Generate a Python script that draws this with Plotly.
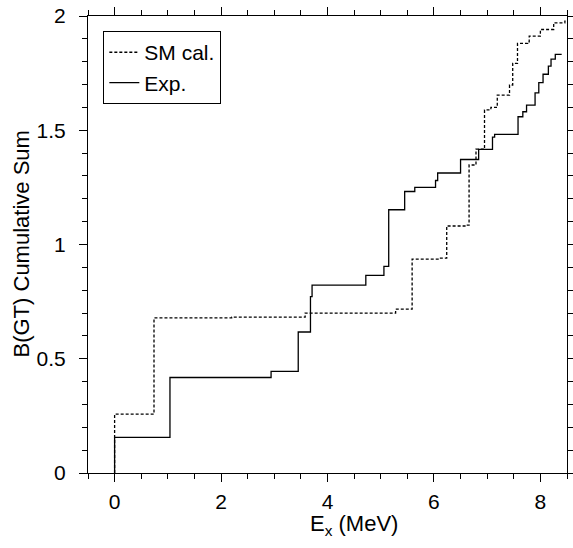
import plotly.graph_objects as go

# Shell-model calculation: excitation energies (MeV) and cumulative B(GT)
sm_energy = [0.0, 0.74, 2.2, 3.58, 5.28, 5.59, 6.09, 6.24, 6.60, 6.66, 6.79, 6.95,
             7.07, 7.19, 7.42, 7.48, 7.57, 7.76, 7.79, 8.00, 8.25, 8.46]
sm_cum = [0.258, 0.679, 0.682, 0.700, 0.717, 0.936, 0.940, 1.081, 1.085, 1.348, 1.417, 1.589,
          1.600, 1.654, 1.698, 1.793, 1.880, 1.887, 1.912, 1.941, 1.970, 1.978]
sm_end = 8.5

# Experiment: excitation energies (MeV) and cumulative B(GT)
exp_energy = [0.0, 1.04, 2.94, 3.45, 3.68, 3.71, 4.72, 5.06, 5.15, 5.45, 5.64, 6.03, 6.07,
              6.50, 6.84, 7.10, 7.14, 7.58, 7.67, 7.74, 7.90, 7.97, 8.05, 8.15, 8.20, 8.28]
exp_cum = [0.156, 0.418, 0.445, 0.617, 0.772, 0.822, 0.865, 0.904, 1.152, 1.232, 1.250, 1.280, 1.313,
           1.372, 1.416, 1.470, 1.482, 1.559, 1.581, 1.610, 1.664, 1.708, 1.745, 1.781, 1.811, 1.832]
exp_end = 8.40

x_title = "E<sub>x</sub> (MeV)"
y_title = "B(GT) Cumulative Sum"

fig = go.Figure()
fig.add_trace(go.Scatter(
    x=[sm_energy[0]] + sm_energy + [sm_end],
    y=[0] + sm_cum + [sm_cum[-1]],
    mode="lines", line_shape="hv", name="SM cal.",
    line=dict(color="black", width=1.3, dash="3px,2px"),
))
fig.add_trace(go.Scatter(
    x=[exp_energy[0]] + exp_energy + [exp_end],
    y=[0] + exp_cum + [exp_cum[-1]],
    mode="lines", line_shape="hv", name="Exp.",
    line=dict(color="black", width=1.3),
))

fam = "Arial, Liberation Sans, sans-serif"
font = dict(family=fam, size=21, color="black")
title_font = dict(family=fam, size=22, color="black")
axis_common = dict(
    showgrid=False, zeroline=False, showline=True, linecolor="black", linewidth=1,
    mirror="ticks", ticks="outside", ticklen=8, tickwidth=1, tickcolor="black",
    tickfont=font, automargin=False, ticklabeloverflow="allow",
)
fig.update_xaxes(
    range=[-0.5, 8.5], dtick=2, tick0=0,
    minor=dict(dtick=0.5, tick0=0, ticks="outside", ticklen=5, tickcolor="black", tickwidth=1),
    ticklabelstandoff=2,
    **axis_common,
)
fig.update_yaxes(
    range=[0, 2], dtick=0.5, tick0=0,
    minor=dict(dtick=0.1, tick0=0, ticks="outside", ticklen=5, tickcolor="black", tickwidth=1),
    ticklabelstandoff=9,
    **axis_common,
)
fig.add_annotation(text=x_title, xref="paper", yref="paper", x=0.555, y=0,
                   xanchor="center", yanchor="middle", yshift=-52, showarrow=False,
                   font=title_font)
fig.add_annotation(text=y_title, xref="paper", yref="paper", x=0, y=0.5,
                   xanchor="center", yanchor="middle", xshift=-67, textangle=-90,
                   showarrow=False, font=title_font)
fig.update_layout(
    width=573, height=548,
    margin=dict(l=88, r=6, t=16, b=75),
    plot_bgcolor="white", paper_bgcolor="white",
    font=font,
    showlegend=True,
    legend=dict(
        x=0.032, y=0.967, xanchor="left", yanchor="top",
        bgcolor="white", bordercolor="black", borderwidth=1,
        font=font, tracegroupgap=0,
    ),
)
# remove the browser's default page margin so the figure fills the window exactly
fig.write_html("out.html", config={"displayModeBar": False},
               post_script="document.body.style.margin='0px';")
